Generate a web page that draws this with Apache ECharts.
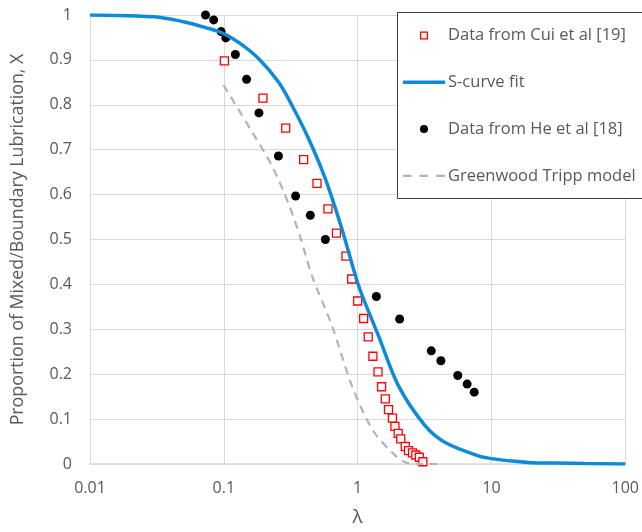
<!DOCTYPE html>
<html>
<head>
<meta charset="utf-8">
<script src="https://cdn.jsdelivr.net/npm/echarts@6/dist/echarts.min.js"></script>
<style>
  html, body { margin: 0; padding: 0; background: #fff; }
  #chart { width: 642px; height: 532px; }
</style>
</head>
<body>
<div id="chart"></div>
<script>
// 数据：Cui et al [19]
const cuiX = [0.101, 0.196, 0.29, 0.395, 0.497, 0.6, 0.694, 0.818, 0.902, 1.0, 1.109, 1.2, 1.3, 1.42, 1.51, 1.61, 1.7, 1.82, 1.9, 2.01, 2.1, 2.27, 2.4, 2.57, 2.72, 2.89, 3.07]
const cuiY = [0.898, 0.815, 0.748, 0.678, 0.625, 0.568, 0.514, 0.463, 0.412, 0.363, 0.324, 0.283, 0.24, 0.205, 0.172, 0.145, 0.121, 0.102, 0.084, 0.068, 0.056, 0.039, 0.03, 0.025, 0.02, 0.015, 0.005]

// 数据：He et al [18]
const heX = [0.073, 0.084, 0.0955, 0.1035, 0.122, 0.148, 0.183, 0.256, 0.344, 0.443, 0.574, 1.38, 2.06, 3.55, 4.19, 5.6, 6.58, 7.43]
const heY = [1.0, 0.989, 0.963, 0.949, 0.912, 0.857, 0.782, 0.686, 0.597, 0.554, 0.5, 0.373, 0.323, 0.252, 0.23, 0.197, 0.178, 0.16]

// S-curve fit
const fitX = [0.01, 0.0165, 0.0327, 0.052, 0.073, 0.0955, 0.129, 0.183, 0.257, 0.324, 0.431, 0.574, 0.764, 1.017, 1.43, 2.02, 3.2, 4.51, 8.0, 10, 15, 20, 30, 50, 100]
const fitY = [1.0, 0.999, 0.995, 0.984, 0.972, 0.961, 0.939, 0.902, 0.85, 0.798, 0.724, 0.635, 0.523, 0.397, 0.286, 0.174, 0.085, 0.048, 0.018, 0.012, 0.006, 0.003, 0.002, 0.001, 0.0]

// Greenwood Tripp model
const gtX = [0.0995, 0.163, 0.229, 0.305, 0.373, 0.456, 0.643, 0.907, 1.28, 1.8, 2.27, 3.0, 4.0]
const gtY = [0.844, 0.739, 0.664, 0.579, 0.505, 0.419, 0.308, 0.174, 0.078, 0.026, 0.004, 0.0, 0.0]

const legendNames = ['Data from Cui et al [19]', 'S-curve fit', 'Data from He et al [18]', 'Greenwood Tripp model']

const zip = (xs, ys) => xs.map((x, i) => [x, ys[i]])

const fontFamily = 'Open Sans'
const textColor = '#595959'
const gridColor = '#d9d9d9'
const blue = '#0d8ad8'
const grey = '#b3b3b3'

// 图例图标（线条 / 虚线）
const solidIcon = 'path://M0,0H42V3.4H0Z'
const dashIcon = 'path://M0,0H8.5V2.2H0Z M16.5,0H25V2.2H16.5Z M33,0H42V2.2H33Z'

const chart = echarts.init(document.getElementById('chart'))
const option = {
  animation: false,
  textStyle: { fontFamily: fontFamily },
  grid: { left: 90, right: 12, top: 15, bottom: 68 },
  xAxis: {
    type: 'log',
    logBase: 10,
    min: 0.01,
    max: 100,
    name: 'λ',
    nameLocation: 'middle',
    nameGap: 44,
    nameTextStyle: { fontSize: 19, color: textColor, fontFamily: fontFamily },
    axisLine: { lineStyle: { color: gridColor, width: 1.5 } },
    axisTick: { show: false },
    minorTick: { show: false },
    axisLabel: {
      color: textColor,
      fontSize: 16,
      margin: 16,
      formatter: v => String(+v.toPrecision(2)),
    },
    splitLine: { show: true, lineStyle: { color: gridColor, width: 1 } },
  },
  yAxis: {
    type: 'value',
    min: 0,
    max: 1,
    interval: 0.1,
    name: 'Proportion of Mixed/Boundary Lubrication, X',
    nameLocation: 'middle',
    nameGap: 63,
    nameTextStyle: { fontSize: 17.8, color: textColor, fontFamily: fontFamily },
    axisLine: { show: false },
    axisTick: { show: false },
    axisLabel: {
      color: textColor,
      fontSize: 16,
      margin: 18,
      formatter: v => String(+v.toFixed(1)),
    },
    splitLine: { lineStyle: { color: gridColor, width: 1 } },
  },
  legend: {
    orient: 'vertical',
    left: 403,
    top: 27,
    padding: 0,
    itemWidth: 42,
    itemHeight: 8,
    itemGap: 29.8,
    symbolKeepAspect: true,
    z: 20,
    textStyle: { color: textColor, fontSize: 16.5, lineHeight: 16, fontFamily: fontFamily, padding: [0, 0, 0, -2] },
    data: [
      { name: legendNames[0], icon: 'path://M0,0H8V8H0Z M1.3,1.3V6.7H6.7V1.3Z', itemStyle: { color: '#ff0000', borderWidth: 0 } },
      { name: legendNames[1], icon: solidIcon, itemStyle: { color: blue } },
      { name: legendNames[2], icon: 'circle' },
      { name: legendNames[3], icon: dashIcon, itemStyle: { color: grey } },
    ],
  },
  graphic: [
    {
      type: 'rect',
      z: 10,
      shape: { x: 397.5, y: 12.5, width: 260, height: 186 },
      style: { fill: '#fff', stroke: '#404040', lineWidth: 1 },
    },
  ],
  series: [
    {
      name: legendNames[0],
      type: 'scatter',
      symbol: 'rect',
      symbolSize: 8,
      itemStyle: { color: '#fff', borderColor: '#ff0000', borderWidth: 1.3, opacity: 1 },
      data: zip(cuiX, cuiY),
    },
    {
      name: legendNames[1],
      type: 'line',
      symbol: 'none',
      smooth: 0.3,
      lineStyle: { color: blue, width: 3.5 },
      itemStyle: { color: blue },
      data: zip(fitX, fitY),
    },
    {
      name: legendNames[2],
      type: 'scatter',
      symbol: 'circle',
      symbolSize: 9,
      itemStyle: { color: '#000', opacity: 1 },
      data: zip(heX, heY),
    },
    {
      name: legendNames[3],
      type: 'line',
      symbol: 'none',
      smooth: 0.3,
      lineStyle: { color: grey, width: 2.2, type: [8, 6] },
      itemStyle: { color: grey },
      data: zip(gtX, gtY),
    },
  ],
}
chart.setOption(option)
</script>
</body>
</html>
